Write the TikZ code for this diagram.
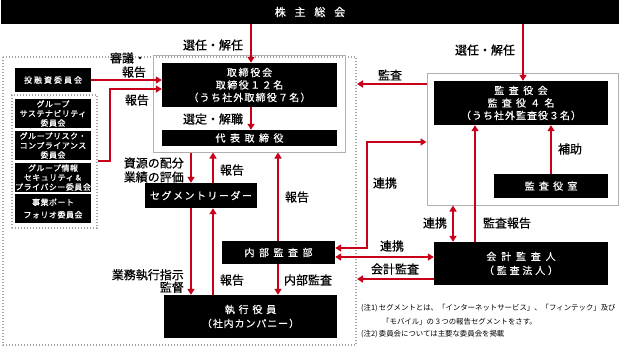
\documentclass[tikz,border=0pt]{standalone}
\usepackage{fontspec}
\setmainfont{Noto Sans CJK JP}
\newfontfamily\lblfont[FakeBold=0.6]{Noto Sans CJK JP}
\newfontfamily\boxfont[FakeBold=0.3]{Noto Sans CJK JP}
\newfontfamily\cmtfont[FakeBold=0.7,LetterSpace=6]{Noto Sans CJK JP}
\usetikzlibrary{arrows.meta,calc}
\definecolor{arrred}{RGB}{200,0,25}
\definecolor{boxgray}{RGB}{175,175,175}
\definecolor{dotgray}{RGB}{165,165,165}
\newcommand\LS[2]{{\addfontfeature{LetterSpace=#1}#2}}
\begin{document}
\begin{tikzpicture}[x=1pt,y=-1pt,
 blk/.style={fill=black,text=white,inner sep=0pt,align=center,font=\boxfont\fontsize{10}{12.5}\selectfont},
 grayfr/.style={draw=boxgray,line width=1pt,fill=none,inner sep=0pt},
 dotfr/.style={draw=dotgray,line width=1.6pt,dash pattern=on 1.4pt off 1.6pt,inner sep=0pt},
 arr/.style={draw=arrred,line width=2pt,-{Triangle[length=6pt,width=7pt]}},
 darr/.style={draw=arrred,line width=2pt,{Triangle[length=6pt,width=7pt]}-{Triangle[length=6pt,width=7pt]}},
 lbl/.style={inner sep=0pt,font=\lblfont\fontsize{12}{14}\selectfont,align=center},
 note/.style={inner sep=0pt,font=\fontsize{7.4}{9}\selectfont},
 cmt/.style={fill=black,text=white,inner sep=0pt,align=center,minimum width=76pt,minimum height=29pt,font=\cmtfont\fontsize{8}{9.5}\selectfont},
]
\useasboundingbox (0,0) rectangle (620,349);
\fill[white] (0,0) rectangle (620,349);

% frames
\draw[dotfr] (3,57) rectangle (356,345);
\node[dotfr,minimum width=85pt,minimum height=133pt] (cgrp) at (54.5,161.5) {};

% top bar
\node[blk,minimum width=618pt,minimum height=24pt,font=\boxfont\fontsize{11}{13}\selectfont] (gm) at (310,12) {\LS{80}{株主総会}};

% board
\node[grayfr,minimum width=192pt,minimum height=97pt] (boardG) at (249,103.5) {};
\node[blk,minimum width=175pt,minimum height=44pt] (board) at (249.5,85) {\LS{18}{取締役会}\\\LS{15}{取締役１２名}\\\LS{12}{（うち社外取締役７名）}};
\node[blk,minimum width=175pt,minimum height=16pt] (rep) at (249.5,138) {\LS{45}{代表取締役}};

% committees
\node[cmt,minimum height=24pt] (inv) at (53,80) {\LS{25}{投融資委員会}};
\node[cmt] (c1) at (53,113.5) {グループ\\サステナビリティ\\委員会};
\node[cmt] (c2) at (53,145.5) {グループリスク・\\コンプライアンス\\委員会};
\node[cmt] (c3) at (53,177.5) {グループ情報\\セキュリティ＆\\プライバシー委員会};
\node[cmt,font=\cmtfont\fontsize{8}{12.5}\selectfont] (c4) at (53,208.5) {事業ポート\\フォリオ委員会};

% audit side
\node[grayfr,minimum width=191pt,minimum height=132pt] (auditG) at (522.5,139) {};
\node[blk,minimum width=174pt,minimum height=44pt] (audit) at (521,103) {\LS{45}{監査役会}\\\LS{42}{監査役４名}\\\LS{10}{（うち社外監査役３名）}};
\node[blk,minimum width=114pt,minimum height=24pt] (office) at (551,186) {\LS{42}{監査役室}};

% execution side
\node[blk,minimum width=112pt,minimum height=25pt] (seg) at (201,195.5) {\LS{15}{セグメントリーダー}};
\node[blk,minimum width=113pt,minimum height=23pt] (ia) at (278.5,252.5) {\LS{45}{内部監査部}};
\node[blk,minimum width=173pt,minimum height=43pt,font=\boxfont\fontsize{10}{14}\selectfont] (exec) at (250.5,316.5) {\LS{38}{執行役員}\\\LS{9}{（社内カンパニー）}};
\node[blk,minimum width=174pt,minimum height=43pt,font=\boxfont\fontsize{10}{14}\selectfont] (firm) at (521,263.5) {\LS{48}{会計監査人}\\\LS{28}{（監査法人）}};

% helper coordinates
\coordinate (vBoard) at (251,0);
\coordinate (vAudit) at (523,0);
\coordinate (vSeg1) at (191,0);
\coordinate (vSeg2) at (213,0);
\coordinate (vIA) at (278,0);
\coordinate (vSup) at (551,0);
\coordinate (vRep) at (453,0);
\coordinate (vAR) at (475,0);
\coordinate (vCmt) at (110,0);
\coordinate (vRen) at (367,0);
\coordinate (hCmt) at (0,161);
\coordinate (hCmt2) at (0,89);
\coordinate (hAud) at (0,84);
\coordinate (hRen) at (0,142);
\coordinate (hRen2) at (0,248);
\coordinate (hRen3) at (0,257);
\coordinate (hAcc) at (0,279);
\coordinate (dotR) at (357,0);

% connectors
\draw[arr] (gm.south -| vBoard) -- (board.north -| vBoard);
\draw[arr] (gm.south -| vAudit) -- (audit.north -| vAudit);
\draw[arr] (board.south -| vBoard) -- (rep.north -| vBoard);
\draw[arr] (inv.east) -- (board.west |- inv.east);
\draw[arr] (cgrp.east |- hCmt) -- (vCmt |- hCmt) -- (vCmt |- hCmt2) -- (board.west |- hCmt2);
\draw[arr] (auditG.west |- hAud) -- (dotR |- hAud);
\draw[arr] (boardG.south -| vSeg1) -- (seg.north -| vSeg1);
\draw[arr] (seg.north -| vSeg2) -- (boardG.south -| vSeg2);
\draw[arr] (ia.north -| vIA) -- (boardG.south -| vIA);
\draw[arr] (seg.south -| vSeg1) -- (exec.north -| vSeg1);
\draw[arr] (exec.north -| vSeg2) -- (seg.south -| vSeg2);
\draw[arr] (ia.south -| vIA) -- (exec.north -| vIA);
\draw[darr] (auditG.west |- hRen) -- (vRen |- hRen) -- (vRen |- hRen2) -- (ia.east |- hRen2);
\draw[darr] (ia.east |- hRen3) -- (firm.west |- hRen3);
\draw[arr] (firm.west |- hAcc) -- (dotR |- hAcc);
\draw[darr] (auditG.south -| vRep) -- (firm.north -| vRep);
\draw[arr] (firm.north -| vAR) -- (audit.south -| vAR);
\draw[arr] (office.north -| vSup) -- (audit.south -| vSup);

% labels
\node[lbl] (l1) at (213,45) {選任・解任};
\node[lbl] (l2) at (485,50) {選任・解任};
\node[lbl,align=right] (l3) at (128,65) {審議・\\報告};
\node[lbl] (l4) at (137,100) {報告};
\node[lbl] (l5) at (213,119) {選定・解職};
\node[lbl] (l6) at (390,75) {監査};
\node[lbl,anchor=east,align=right] (l7) at (184,170) {資源の配分\\業績の評価};
\node[lbl] (l8) at (232,170) {報告};
\node[lbl] (l9) at (297,197) {報告};
\node[lbl] (l10) at (385,183) {連携};
\node[lbl] (l11) at (570,149) {補助};
\node[lbl] (l12) at (435,223) {連携};
\node[lbl] (l13) at (507,223) {監査報告};
\node[lbl] (l14) at (392,246) {連携};
\node[lbl] (l15) at (395,269) {会計監査};
\node[lbl,anchor=east,align=right,font=\lblfont\fontsize{12}{12.5}\selectfont] (l16) at (184,281) {業務執行指示\\監督};
\node[lbl] (l17) at (232,280) {報告};
\node[lbl] (l18) at (308,280) {内部監査};

% notes
\node[note,anchor=west] (n1) at (361,308) {(注1)\,セグメントとは、「インターネットサービス」、「フィンテック」及び};
\node[note,anchor=west] (n2) at (382,322) {「モバイル」の３つの報告セグメントをさす。};
\node[note,anchor=west] (n3) at (361,334) {(注2)\,委員会については主要な委員会を掲載};
\end{tikzpicture}
\end{document}
